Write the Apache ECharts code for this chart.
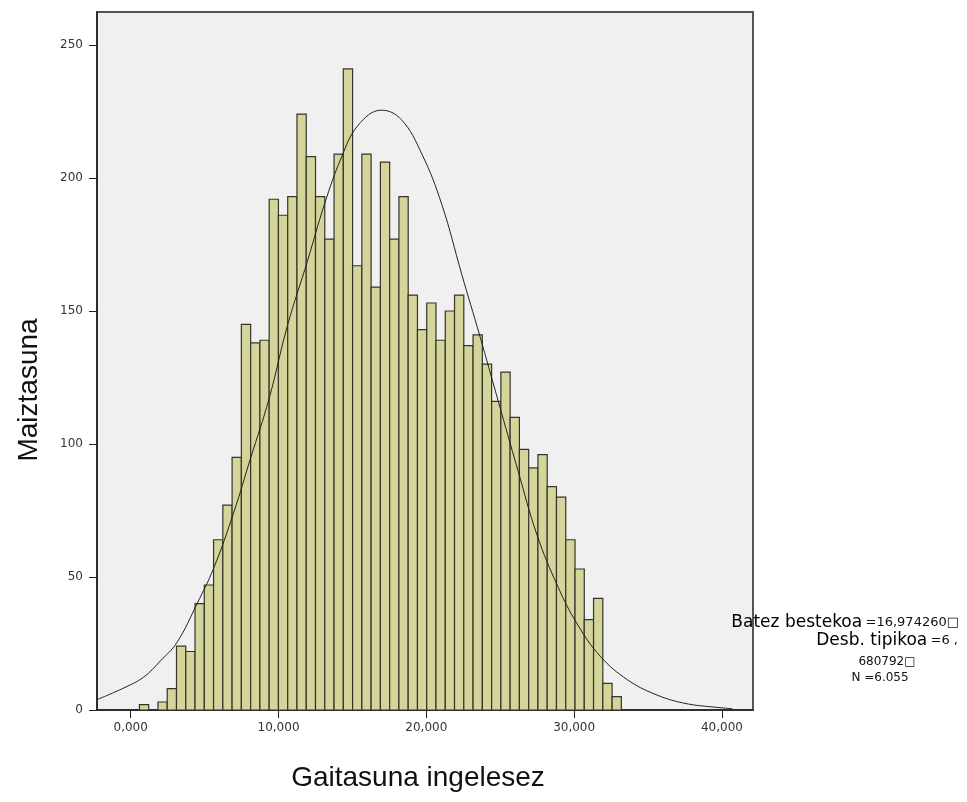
<!DOCTYPE html>
<html>
<head>
<meta charset="utf-8">
<script src="https://cdn.jsdelivr.net/npm/echarts@6/dist/echarts.min.js"></script>
<style>
html,body{margin:0;padding:0;background:#fff;}
#chart{width:967px;height:802px;}
</style>
</head>
<body>
<div id="chart"></div>
<script>
// Histogram bins (left edge of first bin, bin width) and counts per bin
const binStart = 0.59;
const binWidth = 0.627;
const counts = [2, 0, 3, 8, 24, 22, 40, 47, 64, 77,
  95, 145, 138, 139, 192, 186, 193, 224, 208, 193,
  177, 209, 241, 167, 209, 159, 206, 177, 193, 156,
  143, 153, 139, 150, 156, 137, 141, 130, 116, 127,
  110, 98, 91, 96, 84, 80, 64, 53, 34, 42,
  10, 5];

// Normal curve points
const curveX = [-2.28, -0.5, 0.86, 2.0, 3.13, 4.49, 5.62, 6.98, 8.1, 9.36,
  10.6, 11.97, 13.1, 14.24, 15.37, 16.96, 18.3, 19.7, 21.05, 22.4,
  23.6, 24.85, 26.2, 27.5, 28.9, 30.2, 31.8, 33.6, 35.4, 37.4, 39.8, 40.7];
const curveY = [3.9, 8.2, 12.3, 18.4, 25.4, 40, 53.4, 74.4, 94.5, 117,
  144.4, 169, 190, 207.5, 219.7, 225.5, 222, 209, 190, 163.7,
  141, 116.4, 90, 65.6, 46.4, 32.4, 20, 11.4, 6.1, 2.6, 0.9, 0.5];

// Tick values
const xTicks = [0, 10, 20, 30, 40];
const yTicks = [0, 50, 100, 150, 200, 250];

const xName = 'Gaitasuna ingelesez';
const yName = 'Maiztasuna';
const statLabels = ['Batez bestekoa', 'Desb. tipikoa', 'N'];
const statValues = ['=16,974260\u25A1', '=6 ,', '680792\u25A1', '=6.055'];

const barData = counts.map((c, i) => [binStart + i * binWidth, binStart + (i + 1) * binWidth, c]);
const curveData = curveX.map((x, i) => [x, curveY[i]]);

const chart = echarts.init(document.getElementById('chart'), null, {renderer: 'canvas'});
const tickFont = {fontFamily: 'DejaVu Sans', fontSize: 12, color: '#333'};
const statRich = {
  a: {fontFamily: 'DejaVu Sans', fontSize: 17, fill: '#000'},
  b: {fontFamily: 'DejaVu Sans', fontSize: 13, fill: '#111'}
};

chart.setOption({
  animation: false,
  backgroundColor: '#ffffff',
  grid: {
    left: 97, right: 214, top: 12, bottom: 92,
    show: true, backgroundColor: '#f0f0f0', borderColor: '#555', borderWidth: 2
  },
  xAxis: {
    type: 'value', min: -2.28, max: 42.1,
    name: xName, nameLocation: 'middle', nameGap: 54,
    nameTextStyle: {fontFamily: 'Liberation Sans', fontSize: 28, color: '#111', padding: [0, 14, 0, 0]},
    axisLine: {show: true, onZero: false, lineStyle: {color: '#222', width: 1.5}},
    axisTick: {show: true, customValues: xTicks, length: 8, lineStyle: {color: '#222'}},
    axisLabel: {customValues: xTicks, margin: 12, ...tickFont,
      formatter: v => v.toFixed(3).replace('.', ',')},
    splitLine: {show: false}
  },
  yAxis: {
    type: 'value', min: 0, max: 262.4,
    name: yName, nameLocation: 'middle', nameGap: 54,
    nameTextStyle: {fontFamily: 'Liberation Sans', fontSize: 28, color: '#111', padding: [0, 58, 0, 0]},
    axisLine: {show: true, onZero: false, lineStyle: {color: '#222', width: 1.5}},
    axisTick: {show: true, customValues: yTicks, length: 8, lineStyle: {color: '#222'}},
    axisLabel: {customValues: yTicks, margin: 14, ...tickFont},
    splitLine: {show: false}
  },
  series: [
    {
      type: 'custom',
      data: barData,
      renderItem: function (params, api) {
        const p0 = api.coord([api.value(0), api.value(2)]);
        const p1 = api.coord([api.value(1), 0]);
        return {
          type: 'rect',
          shape: {x: p0[0], y: p0[1], width: p1[0] - p0[0], height: p1[1] - p0[1]},
          style: {fill: '#d4d49b', stroke: '#35352a', lineWidth: 1.2}
        };
      },
      clip: true,
      z: 2
    },
    {
      type: 'line',
      data: curveData,
      smooth: 0.4,
      symbol: 'none',
      lineStyle: {color: '#222', width: 1},
      clip: true,
      z: 3
    }
  ],
  graphic: [
    {type: 'text', right: 8, top: 614, z: 10,
      style: {rich: statRich, text: '{a|' + statLabels[0] + '} {b|' + statValues[0] + '}'}},
    {type: 'text', right: 9, top: 632, z: 10,
      style: {rich: statRich, text: '{a|' + statLabels[1] + '} {b|' + statValues[1] + '}'}},
    {type: 'text', x: 887, y: 662, z: 10,
      style: {text: statValues[2], fontFamily: 'DejaVu Sans', fontSize: 12, fill: '#111', align: 'center', verticalAlign: 'middle'}},
    {type: 'text', x: 880, y: 678, z: 10,
      style: {text: statLabels[2] + ' ' + statValues[3], fontFamily: 'DejaVu Sans', fontSize: 12, fill: '#111', align: 'center', verticalAlign: 'middle'}}
  ]
});
</script>
</body>
</html>
